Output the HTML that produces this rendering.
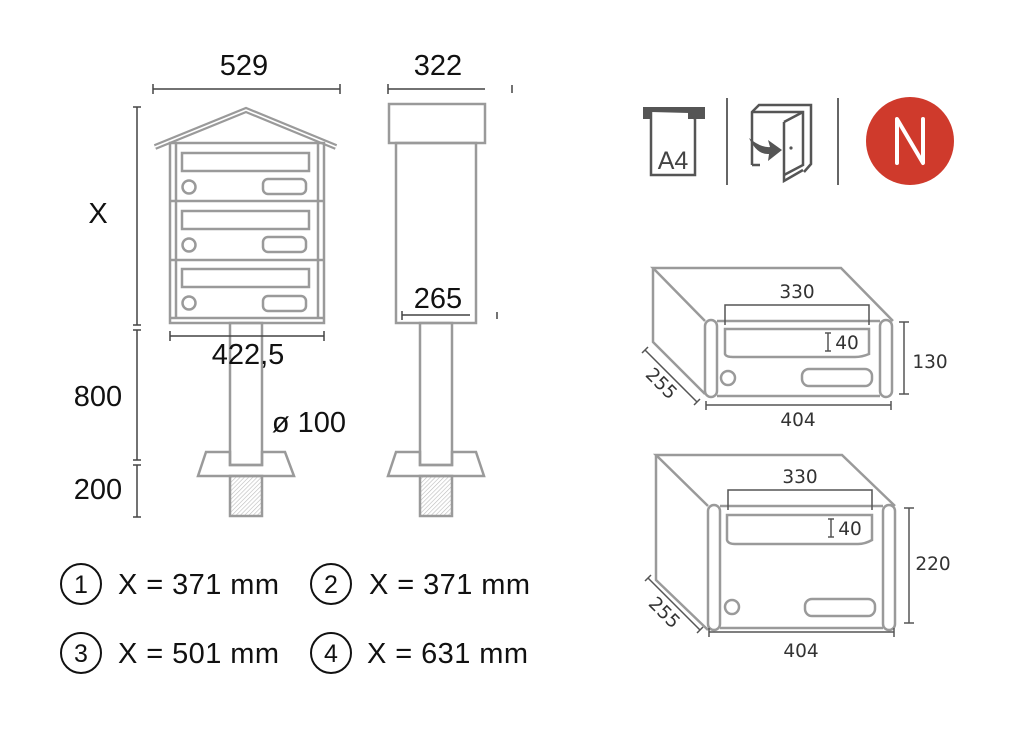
<!DOCTYPE html>
<html><head><meta charset="utf-8"><style>
html,body{margin:0;padding:0;background:#fff;}
svg{display:block;}
text{font-family:"Liberation Sans",sans-serif;}
.g{fill:none;stroke:#9a9a9a;stroke-width:2.5;}
.d{fill:none;stroke:#444;stroke-width:1.5;}
.dd{fill:none;stroke:#555;stroke-width:1.5;}
.t{font-size:29px;fill:#111;}
.s{font-family:"DejaVu Sans",sans-serif;font-size:18.5px;fill:#333;}
</style></head><body>
<svg width="1014" height="736" viewBox="0 0 1014 736" xmlns="http://www.w3.org/2000/svg">
<defs>
<pattern id="h" width="3" height="3" patternUnits="userSpaceOnUse" patternTransform="rotate(45)"><line x1="0" y1="0" x2="0" y2="3" stroke="#bbb" stroke-width="1.2"/></pattern>
</defs>
<!-- left elevation -->
<line class="d" x1="153" y1="89" x2="340" y2="89"/><line class="d" x1="153" y1="84" x2="153" y2="94"/><line class="d" x1="340" y1="84" x2="340" y2="94"/>
<text class="t" x="244" y="75" text-anchor="middle">529</text>
<line class="d" x1="137" y1="107" x2="137" y2="325"/><line class="d" x1="137" y1="330" x2="137" y2="460"/><line class="d" x1="137" y1="465" x2="137" y2="517"/>
<line class="d" x1="133" y1="107" x2="141" y2="107"/><line class="d" x1="133" y1="325" x2="141" y2="325"/><line class="d" x1="133" y1="330" x2="141" y2="330"/><line class="d" x1="133" y1="460" x2="141" y2="460"/><line class="d" x1="133" y1="465" x2="141" y2="465"/><line class="d" x1="133" y1="517" x2="141" y2="517"/>
<text class="t" x="98" y="223" text-anchor="middle">X</text>
<text class="t" x="98" y="406" text-anchor="middle">800</text>
<text class="t" x="98" y="499" text-anchor="middle">200</text>
<polyline points="155,147 246,110 336,147" fill="none" stroke="#9a9a9a" stroke-width="6"/>
<polyline points="155,147 246,110 336,147" fill="none" stroke="#fff" stroke-width="1.6"/>
<rect class="g" x="170" y="143" width="154" height="180"/>
<line class="g" x1="176" y1="143" x2="176" y2="318"/><line class="g" x1="318" y1="143" x2="318" y2="318"/>
<line class="g" x1="170" y1="318" x2="324" y2="318"/>
<line class="g" x1="170" y1="201" x2="324" y2="201"/><line class="g" x1="170" y1="260" x2="324" y2="260"/>
<g class="g">
<rect x="182" y="153" width="127" height="18"/><circle cx="189" cy="187" r="6.5"/><rect x="263" y="179" width="43" height="15" rx="5"/>
<rect x="182" y="211" width="127" height="18"/><circle cx="189" cy="245" r="6.5"/><rect x="263" y="237" width="43" height="15" rx="5"/>
<rect x="182" y="269" width="127" height="18"/><circle cx="189" cy="303" r="6.5"/><rect x="263" y="296" width="43" height="15" rx="5"/>
</g>
<rect class="g" x="230" y="323" width="32" height="142"/>
<polygon class="g" points="206,452 230,452 230,465 262,465 262,452 285,452 294,476 198,476"/>
<rect x="230" y="476" width="32" height="40" fill="url(#h)" stroke="#9a9a9a" stroke-width="2.5"/>
<line class="d" x1="170" y1="336" x2="324" y2="336"/><line class="d" x1="170" y1="331" x2="170" y2="341"/><line class="d" x1="324" y1="331" x2="324" y2="341"/>
<text class="t" x="248" y="364" text-anchor="middle">422,5</text>
<text class="t" x="309" y="432" text-anchor="middle">ø 100</text>
<!-- right elevation -->
<line class="d" x1="388" y1="89" x2="485" y2="89"/><line class="d" x1="388" y1="84" x2="388" y2="94"/><line class="d" x1="512" y1="85" x2="512" y2="93"/>
<text class="t" x="438" y="75" text-anchor="middle">322</text>
<rect class="g" x="389" y="104" width="96" height="39"/>
<rect class="g" x="396" y="143" width="80" height="180"/>
<line class="d" x1="402" y1="315" x2="470" y2="315"/><line class="d" x1="402" y1="311" x2="402" y2="320"/><line class="d" x1="497" y1="312" x2="497" y2="319"/>
<text class="t" x="438" y="308" text-anchor="middle">265</text>
<rect class="g" x="420" y="323" width="32" height="142"/>
<polygon class="g" points="396,452 420,452 420,465 452,465 452,452 476,452 484,476 388,476"/>
<rect x="420" y="476" width="32" height="40" fill="url(#h)" stroke="#9a9a9a" stroke-width="2.5"/>
<!-- legend -->
<g fill="none" stroke="#111" stroke-width="2"><circle cx="81" cy="584" r="20"/><circle cx="331" cy="584" r="20"/><circle cx="81" cy="653" r="20"/><circle cx="331" cy="653" r="20"/></g>
<g class="t" text-anchor="middle" style="font-size:25px"><text x="81" y="593">1</text><text x="331" y="593">2</text><text x="81" y="662">3</text><text x="331" y="662">4</text></g>
<text class="t" x="118" y="594" textLength="161">X = 371 mm</text>
<text class="t" x="369" y="594" textLength="161">X = 371 mm</text>
<text class="t" x="118" y="663" textLength="161">X = 501 mm</text>
<text class="t" x="367" y="663" textLength="161">X = 631 mm</text>
<!-- icons -->
<rect x="643" y="107" width="62" height="12" fill="#555"/>
<path d="M651,112 V175 H695 V119 L689,113" fill="#fff" stroke="#555" stroke-width="2.5"/>
<path d="M688,112 L695,119 H688 Z" fill="#555"/>
<text x="673" y="169" text-anchor="middle" style="font-size:25px;fill:#444">A4</text>
<line x1="727" y1="98" x2="727" y2="185" stroke="#666" stroke-width="2"/>
<line x1="838" y1="98" x2="838" y2="185" stroke="#666" stroke-width="2"/>
<g fill="none" stroke="#555" stroke-width="2.5">
<path d="M752,165 V112 L759,105 H811 V164 L804,172"/>
<path d="M752,112 H803 V165 L784,175"/>
<path d="M784,122 L803,112 M784,122 V181 L803,170"/>
<path d="M752,165 H760"/>
</g>
<circle cx="791" cy="148" r="1.6" fill="#555"/>
<path d="M749,138 Q761,148 770,147 L768,140 L782,150 L768,161 L769,154 Q757,155 749,138 Z" fill="#555"/>
<circle cx="910" cy="141" r="44" fill="#cf3a2c"/>
<path d="M897,163 V119 L923,163 V119" fill="none" stroke="#fff" stroke-width="4" stroke-linecap="round" stroke-linejoin="round"/>
<!-- box 1 -->
<g class="g" stroke-width="2">
<polyline points="705,321 653,268 841,268 893,321"/>
<polyline points="653,268 653,342 705,394"/>
<rect x="705" y="320" width="12" height="77" rx="6"/>
<rect x="880" y="320" width="12" height="77" rx="6"/>
<line x1="717" y1="321" x2="880" y2="321"/><line x1="717" y1="396" x2="880" y2="396"/>
<path d="M725,329 H869 V354 Q862,357 855,357 H733 Q726,357 725,354 Z"/>
<circle cx="728" cy="378" r="7"/>
<rect x="802" y="369" width="70" height="17" rx="7"/>
</g>
<polyline class="dd" points="725,325 725,305 869,305 869,325"/>
<text class="s" x="797" y="298" text-anchor="middle">330</text>
<g class="dd"><line x1="828" y1="333" x2="828" y2="351"/><line x1="825" y1="333" x2="831" y2="333"/><line x1="825" y1="351" x2="831" y2="351"/></g>
<text class="s" x="847" y="349" text-anchor="middle">40</text>
<g class="dd"><line x1="904" y1="322" x2="904" y2="394"/><line x1="899" y1="322" x2="909" y2="322"/><line x1="899" y1="394" x2="909" y2="394"/></g>
<text class="s" x="930" y="368" text-anchor="middle">130</text>
<g class="dd"><line x1="706" y1="405" x2="891" y2="405"/><line x1="706" y1="401" x2="706" y2="410"/><line x1="891" y1="401" x2="891" y2="410"/></g>
<text class="s" x="798" y="426" text-anchor="middle">404</text>
<g class="dd"><line x1="645" y1="350" x2="697" y2="402"/><line x1="642" y1="353" x2="648" y2="347"/><line x1="694" y1="405" x2="700" y2="399"/></g>
<text class="s" transform="translate(657,388) rotate(45)" text-anchor="middle">255</text>
<!-- box 2 -->
<g class="g" stroke-width="2">
<polyline points="708,506 656,455 842,455 895,506"/>
<polyline points="656,455 656,580 708,630"/>
<rect x="708" y="505" width="12" height="125" rx="6"/>
<rect x="883" y="505" width="12" height="125" rx="6"/>
<line x1="720" y1="506" x2="883" y2="506"/><line x1="720" y1="628" x2="883" y2="628"/>
<path d="M727,515 H872 V540 Q865,544 858,544 H735 Q728,544 727,540 Z"/>
<circle cx="732" cy="607" r="7"/>
<rect x="805" y="599" width="70" height="17" rx="7"/>
</g>
<polyline class="dd" points="728,510 728,490 872,490 872,510"/>
<text class="s" x="800" y="483" text-anchor="middle">330</text>
<g class="dd"><line x1="831" y1="519" x2="831" y2="537"/><line x1="828" y1="519" x2="834" y2="519"/><line x1="828" y1="537" x2="834" y2="537"/></g>
<text class="s" x="850" y="535" text-anchor="middle">40</text>
<g class="dd"><line x1="909" y1="508" x2="909" y2="623"/><line x1="904" y1="508" x2="914" y2="508"/><line x1="904" y1="623" x2="914" y2="623"/></g>
<text class="s" x="933" y="570" text-anchor="middle">220</text>
<g class="dd"><line x1="709" y1="632" x2="894" y2="632"/><line x1="709" y1="628" x2="709" y2="637"/><line x1="894" y1="628" x2="894" y2="637"/></g>
<text class="s" x="801" y="657" text-anchor="middle">404</text>
<g class="dd"><line x1="648" y1="578" x2="700" y2="630"/><line x1="645" y1="581" x2="651" y2="575"/><line x1="697" y1="633" x2="703" y2="627"/></g>
<text class="s" transform="translate(660,617) rotate(45)" text-anchor="middle">255</text>
</svg>
</body></html>
